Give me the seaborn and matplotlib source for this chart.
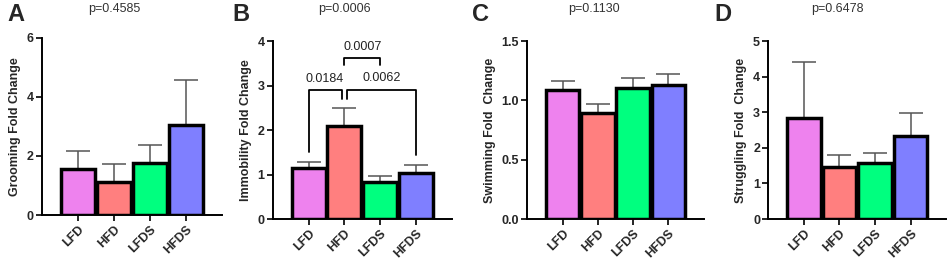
"""
fold change bar panels (grooming, immobility, swimming, struggling)
"""

import numpy as np
import pandas as pd
import matplotlib
matplotlib.use('Agg')
import matplotlib.pyplot as plt
import seaborn as sns

groups = ['LFD', 'HFD', 'LFDS', 'HFDS']
colors = ['#EE82EE', '#FF7F7F', '#00FF7F', '#7F7FFF']

grooming_mean = [1.57, 1.13, 1.77, 3.05]
grooming_top = [2.18, 1.73, 2.38, 4.56]
immobility_mean = [1.15, 2.09, 0.84, 1.04]
immobility_top = [1.29, 2.49, 0.97, 1.21]
swimming_mean = [1.087, 0.89, 1.106, 1.126]
swimming_top = [1.163, 0.969, 1.19, 1.222]
struggling_mean = [2.85, 1.45, 1.56, 2.33]
struggling_top = [4.42, 1.80, 1.86, 2.97]

panel_letters = ['A', 'B', 'C', 'D']
p_values = ['p=0.4585', 'p=0.0006', 'p=0.1130', 'p=0.6478']
ylabels = ['Grooming Fold Change', 'Immobility Fold Change',
           'Swimming Fold  Change', 'Struggling Fold  Change']
ylims = [6, 4, 1.5, 5]
yticks = [[0, 2, 4, 6], [0, 1, 2, 3, 4], [0.0, 0.5, 1.0, 1.5], [0, 1, 2, 3, 4, 5]]
ytick_fmt = ['{:.0f}', '{:.0f}', '{:.1f}', '{:.0f}']

# significance brackets for panel B: (group1, group2, height, label)
brackets = [('LFD', 'HFD', 2.90, '0.0184'),
            ('HFD', 'HFDS', 2.91, '0.0062'),
            ('HFD', 'LFDS', 3.62, '0.0007')]
bracket_legs = [(1.51, 2.69), (2.69, 1.44), (3.46, 3.46)]

sns.set_style('ticks')
plt.rcParams['font.family'] = ['Liberation Sans', 'DejaVu Sans']

fig = plt.figure(figsize=(9.48, 2.62), dpi=100)
positions = [[0.0443, 0.179, 0.190, 0.677],
             [0.2877, 0.164, 0.189, 0.6795],
             [0.5562, 0.164, 0.186, 0.6795],
             [0.8105, 0.164, 0.1875, 0.6795]]
means = [grooming_mean, immobility_mean, swimming_mean, struggling_mean]
tops = [grooming_top, immobility_top, swimming_top, struggling_top]
letter_x = [0.008, 0.245, 0.498, 0.754]
p_x = [0.121, 0.363, 0.627, 0.883]

for i in range(4):
    ax = fig.add_axes(positions[i])
    df = pd.DataFrame({'group': groups, 'value': means[i]})
    sns.barplot(data=df, x='group', y='value', hue='group', palette=colors,
                saturation=1, legend=False, width=0.95, edgecolor='black',
                linewidth=2.5, ax=ax, zorder=3)
    err = np.array(tops[i]) - np.array(means[i])
    ax.errorbar(range(4), means[i], yerr=[np.zeros(4), err], fmt='none',
                ecolor='#555555', elinewidth=1.1, capsize=8.5, capthick=1.1,
                zorder=2)
    ax.set_xlim(-1.0, 4.0)
    ax.set_ylim(0, ylims[i])
    ax.set_yticks(yticks[i])
    ax.set_yticklabels([ytick_fmt[i].format(t) for t in yticks[i]],
                       fontweight='bold', fontsize=9)
    ax.set_xticks(range(4))
    ax.set_xticklabels(groups, rotation=45, ha='right', rotation_mode='anchor',
                       fontweight='bold', fontsize=9)
    ax.set_xlabel('')
    ax.set_ylabel(ylabels[i], fontweight='bold', fontsize=9)
    sns.despine(ax=ax)
    for s in ['left', 'bottom']:
        ax.spines[s].set_linewidth(1.4)
        ax.spines[s].set_color('black')
    ax.tick_params(width=1.2, length=4, color='black', pad=2)

    fig.text(letter_x[i], 0.943, panel_letters[i], fontsize=17,
             fontweight='bold', va='center', ha='left')
    fig.text(p_x[i], 0.965, p_values[i], fontsize=9, color='#333333',
             va='center', ha='center')

    if i == 1:
        for (g1, g2, h, lab), (l1, l2) in zip(brackets, bracket_legs):
            x1, x2 = groups.index(g1), groups.index(g2)
            if g1 == 'HFD' and g2 == 'HFDS':
                x1 += 0.08
            elif g2 == 'HFD':
                x2 -= 0.08
            ax.plot([x1, x1, x2, x2], [l1, h, h, l2], color='black',
                    lw=1.3, zorder=4, clip_on=False)
            ax.text((x1 + x2) / 2, h + 0.12, lab, ha='center', va='bottom',
                    fontsize=9, color='#222222')

fig.savefig('out.png', dpi=100)
